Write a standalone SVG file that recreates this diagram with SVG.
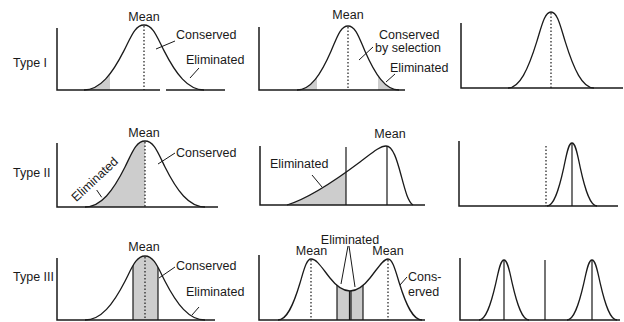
<svg xmlns="http://www.w3.org/2000/svg" width="624" height="322" viewBox="0 0 624 322">
<style>
text{font-family:"Liberation Sans",Arial,sans-serif;font-size:12.5px;fill:#1a1a1a}
.ax{stroke:#1a1a1a;stroke-width:1.5;fill:none}
.cv{stroke:#1a1a1a;stroke-width:1.3;fill:none}
.dt{stroke:#1a1a1a;stroke-width:1.2;stroke-dasharray:1.5 2;fill:none}
.sl{stroke:#1a1a1a;stroke-width:1.2;fill:none}
.ld{stroke:#1a1a1a;stroke-width:1;fill:none}
.sh{fill:#cdcdcd}
</style>
<defs>
<clipPath id="c11"><path d="M84,90 C100,90 112,74.2 124,50.6 C131,36.8 135,25 144,25 C153,25 157,36.8 164,50.6 C176,74.2 188,90 204,90Z"/></clipPath>
<clipPath id="c12"><path d="M297,90 C310.6,90 320.8,74.5 331,51.2 C337,37.6 340.3,26 348,26 C355.7,26 359,37.6 365,51.2 C375.2,74.5 385.4,90 399,90Z"/></clipPath>
<clipPath id="c21"><path d="M85,207 C101,207 113,191 125,167 C132,152.9 136,141 145,141 C154,141 158,152.9 165,167 C177,191 189,207 205,207Z"/></clipPath>
<clipPath id="c22"><path d="M287,205 C310,198 340,177 360,162 C372,153 380,146 386,146 C393,146 397,160 401,175 C405,190 408,202 413,205Z"/></clipPath>
<clipPath id="c31"><path d="M85,320 C101,320 113,304.5 125,281.2 C132,267.6 136,256 145,256 C154,256 158,267.6 165,281.2 C177,304.5 189,320 205,320Z"/></clipPath>
<clipPath id="c32"><path d="M278,320 C286.8,320 293.4,305.2 300,283 C303.9,270 306.5,259 311,259 C317,259 322,268 330,278 C337,287 343,291 350,291 C357,291 363,287 370,278 C378,268 383,259 388,259 C392.5,259 395.3,270 399.3,283 C406.1,305.2 412.9,320 422,320Z"/></clipPath>
</defs>

<g id="row-labels">
<text x="13" y="67">Type I</text>
<text x="13" y="177">Type II</text>
<text x="13" y="281">Type III</text>
</g>

<!-- Row 1 -->
<g id="t1-before">
<rect class="sh" x="84" y="20" width="26" height="70" clip-path="url(#c11)"/>
<path class="ax" d="M57,28 V90 H160 M166,90 H225"/>
<path class="cv" d="M84,90 C100,90 112,74.2 124,50.6 C131,36.8 135,25 144,25 C153,25 157,36.8 164,50.6 C176,74.2 188,90 204,90"/>
<path class="dt" d="M144,26 V90"/>
<text x="144" y="20.5" text-anchor="middle">Mean</text>
<text x="176" y="38.5">Conserved</text>
<text x="186" y="64">Eliminated</text>
</g>
<g id="t1-selection">
<rect class="sh" x="297" y="20" width="20" height="70" clip-path="url(#c12)"/>
<rect class="sh" x="378" y="20" width="22" height="70" clip-path="url(#c12)"/>
<path class="ax" d="M259,27 V90 H405"/>
<path class="cv" d="M297,90 C310.6,90 320.8,74.5 331,51.2 C337,37.6 340.3,26 348,26 C355.7,26 359,37.6 365,51.2 C375.2,74.5 385.4,90 399,90"/>
<path class="dt" d="M348,27 V90"/>
<text x="348" y="18.5" text-anchor="middle">Mean</text>
<text x="379" y="38.5">Conserved</text>
<text x="375" y="52">by selection</text>
<text x="390" y="71.5">Eliminated</text>
</g>
<g id="t1-after">
<path class="ax" d="M461,23 V88 H623"/>
<path class="cv" d="M508.1,88 C519.5,88 528.1,69.6 536.7,41.9 C541.7,25.8 544.6,12 551,12 C557.4,12 560.3,25.8 565.3,41.9 C573.9,69.6 582.5,88 593.9,88"/>
<path class="dt" d="M551,13 V88"/>
</g>

<!-- Row 2 -->
<g id="t2-before">
<rect class="sh" x="85" y="135" width="60" height="72" clip-path="url(#c21)"/>
<path class="ax" d="M57,143 V207 H218"/>
<path class="cv" d="M85,207 C101,207 113,191 125,167 C132,152.9 136,141 145,141 C154,141 158,152.9 165,167 C177,191 189,207 205,207"/>
<path class="dt" d="M145,142 V207"/>
<text x="144" y="137" text-anchor="middle">Mean</text>
<text x="176" y="156.5">Conserved</text>
<text x="97.6" y="182.3" text-anchor="middle" transform="rotate(-43 97.6 182.3)">Eliminated</text>
</g>
<g id="t2-selection">
<rect class="sh" x="287" y="140" width="59" height="66" clip-path="url(#c22)"/>
<path class="ax" d="M260,146 V205 H425"/>
<path class="cv" d="M287,205 C310,198 340,177 360,162 C372,153 380,146 386,146 C393,146 397,160 401,175 C405,190 408,202 413,205"/>
<path class="sl" d="M346,147 V205 M387,146 V205"/>
<text x="390" y="138" text-anchor="middle">Mean</text>
<text x="270" y="168">Eliminated</text>
</g>
<g id="t2-after">
<path class="ax" d="M459,141 V206 H618"/>
<path class="dt" d="M546,146 V206"/>
<path class="cv" d="M547,206 C553.7,206 558.7,190.7 563.7,167.8 C566.6,154.4 568.3,143 572,143 C575.7,143 577.4,154.4 580.3,167.8 C585.3,190.7 590.3,206 597,206"/>
<path class="sl" d="M572,143 V206"/>
</g>

<!-- Row 3 -->
<g id="t3-before">
<rect class="sh" x="133" y="250" width="25" height="70" clip-path="url(#c31)"/>
<path class="ax" d="M57,258 V320 H215"/>
<path class="cv" d="M85,320 C101,320 113,304.5 125,281.2 C132,267.6 136,256 145,256 C154,256 158,267.6 165,281.2 C177,304.5 189,320 205,320"/>
<g clip-path="url(#c31)"><path class="sl" d="M133,250 V320 M158,250 V320"/></g>
<path class="dt" d="M145,257 V320"/>
<text x="144" y="251" text-anchor="middle">Mean</text>
<text x="176" y="270">Conserved</text>
<text x="186" y="296">Eliminated</text>
</g>
<g id="t3-selection">
<rect class="sh" x="337" y="250" width="26" height="70" clip-path="url(#c32)"/>
<g clip-path="url(#c32)"><path class="sl" d="M337,250 V320 M349.5,250 V320 M351,250 V320 M363,250 V320"/></g>
<path class="ax" d="M259,255 V320 H425"/>
<path class="cv" d="M278,320 C286.8,320 293.4,305.2 300,283 C303.9,270 306.5,259 311,259 C317,259 322,268 330,278 C337,287 343,291 350,291 C357,291 363,287 370,278 C378,268 383,259 388,259 C392.5,259 395.3,270 399.3,283 C406.1,305.2 412.9,320 422,320"/>
<path class="dt" d="M311,260 V320 M388,260 V320"/>
<text x="311.5" y="255" text-anchor="middle">Mean</text>
<text x="388" y="255" text-anchor="middle">Mean</text>
<text x="350" y="244" text-anchor="middle">Eliminated</text>
<text x="408" y="281">Cons-</text>
<text x="408" y="296">erved</text>
</g>
<g id="t3-after">
<path class="ax" d="M460,258 V320 H620"/>
<path class="sl" d="M545,260 V320 M504,260 V320 M592,260 V320"/>
<path class="cv" d="M479,320 C485.7,320 490.7,305.4 495.7,283.6 C498.6,270.9 500.3,260 504,260 C507.7,260 509.4,270.9 512.3,283.6 C517.3,305.4 522.3,320 529,320"/>
<path class="cv" d="M567,320 C573.7,320 578.7,305.4 583.7,283.6 C586.6,270.9 588.3,260 592,260 C595.7,260 597.4,270.9 600.3,283.6 C605.3,305.4 610.3,320 617,320"/>
</g>

<g id="connectors">
<path class="ld" d="M156,49 L175,41"/>
<path class="ld" d="M190,78 L199,68"/>
<path class="ld" d="M359,60 L373,47"/>
<path class="ld" d="M386,82 L395,74"/>
<path class="ld" d="M158,164 L175,153"/>
<path class="ld" d="M96.7,190 L101.7,197.3"/>
<path class="ld" d="M312,175 L322,187"/>
<path class="ld" d="M159,278 L175,267"/>
<path class="ld" d="M192,315 L199,307"/>
<path class="ld" d="M348,246 L341,284 M349,246 L355,287"/>
<path class="ld" d="M400,285 L407,277"/>
</g>
</svg>
